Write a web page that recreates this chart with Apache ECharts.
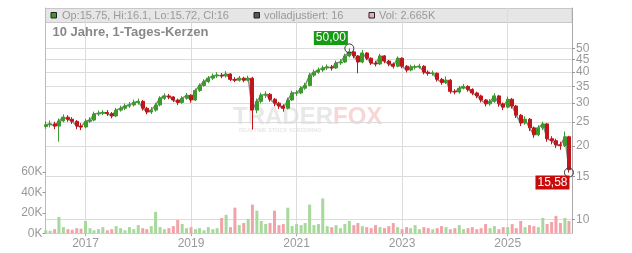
<!DOCTYPE html>
<html><head><meta charset="utf-8">
<script src="https://cdn.jsdelivr.net/npm/echarts@6/dist/echarts.min.js"></script>
<style>html,body{margin:0;padding:0;background:#fff}#c{width:632px;height:253px}</style>
</head><body><div id="c"></div>
<script>
// Monthly candles, first month = April 2016
const firstYear = 2016, firstMonth = 3;
const opens = [24.0,24.4,24.6,24.1,25.3,26.2,25.7,25.2,24.1,23.9,25.2,25.5,27.0,27.2,27.4,27.1,26.5,28.0,28.5,29.1,
29.4,30.1,30.4,28.5,27.5,28.0,29.4,31.3,32.0,31.7,30.8,30.1,31.3,32.2,30.8,33.7,35.3,36.6,37.8,38.6,
38.9,38.6,39.3,37.4,37.1,37.8,37.1,37.8,28.0,30.4,32.2,32.5,31.0,29.9,29.1,28.5,30.8,32.9,32.9,34.4,
35.3,38.9,40.0,40.8,41.6,42.0,41.6,43.6,44.0,46.6,48.4,46.6,44.0,47.9,45.6,43.6,43.2,46.6,44.4,43.2,
42.3,45.6,42.3,40.8,42.0,42.0,42.3,40.0,39.6,39.6,37.4,36.3,37.1,33.4,33.2,34.4,35.0,34.0,32.9,32.0,
30.8,29.7,30.4,32.0,29.7,28.8,31.0,29.1,26.7,24.8,25.7,23.7,22.2,23.7,24.6,21.4,21.0,20.2,20.1,21.8];
const closes = [24.4,24.6,24.1,25.3,26.2,25.7,25.2,24.1,23.9,25.2,25.5,27.0,27.2,27.4,27.1,26.5,28.0,28.5,29.1,29.4,
30.1,30.4,28.5,27.5,28.0,29.4,31.3,32.0,31.7,30.8,30.1,31.3,32.2,30.8,33.7,35.3,36.6,37.8,38.6,38.9,
38.6,39.3,37.4,37.1,37.8,37.1,37.8,28.0,30.4,32.2,32.5,31.0,29.9,29.1,28.5,30.8,32.9,32.9,34.4,35.3,
38.9,40.0,40.8,41.6,42.0,41.6,43.6,44.0,46.6,48.4,46.6,44.0,47.9,45.6,43.6,43.2,46.6,44.4,43.2,42.3,
45.6,42.3,40.8,42.0,42.0,42.3,40.0,39.6,39.6,37.4,36.3,37.1,33.4,33.2,34.4,35.0,34.0,32.9,32.0,30.8,
29.7,30.4,32.0,29.7,28.8,31.0,29.1,26.7,24.8,25.7,23.7,22.2,23.7,24.6,21.4,21.0,20.2,20.1,21.8,16.0];
const highs = [25.2,25.4,25.1,25.9,26.9,26.7,26.2,25.5,24.8,25.8,26.2,27.6,27.9,28.0,28.0,27.5,28.6,29.2,29.8,30.2,
30.9,31.2,30.8,28.9,28.8,30.0,31.9,32.8,32.6,31.9,31.2,31.9,32.9,32.5,34.3,36.0,37.4,38.6,39.5,40.0,
39.7,40.4,39.6,38.2,38.6,38.3,38.7,38.3,31.2,33.0,33.4,32.9,31.4,30.3,29.6,31.5,33.6,33.8,35.1,36.2,
39.8,41.0,41.8,42.6,43.0,42.8,44.6,45.2,47.6,50.0,48.9,47.0,49.3,48.3,46.0,44.5,47.5,47.0,44.9,43.8,
46.4,46.0,42.8,42.9,42.9,43.3,42.7,40.7,40.6,39.9,37.9,38.4,37.5,34.1,35.2,35.8,35.4,34.4,33.3,32.4,
31.1,31.1,32.8,32.3,30.1,31.8,31.4,29.4,27.0,26.4,26.0,24.0,24.3,25.1,24.8,21.9,21.4,20.8,22.9,22.0];
const lows = [23.5,23.8,23.4,20.8,25.0,25.1,24.6,23.4,23.2,23.6,24.8,25.2,26.5,26.7,26.5,25.9,26.2,27.6,28.0,28.6,
29.0,29.5,27.9,26.9,27.0,27.6,29.0,30.8,31.0,30.2,29.4,29.7,30.9,30.0,30.5,33.2,34.9,36.1,37.2,37.9,
37.8,38.0,36.8,36.4,36.6,36.4,36.7,23.3,27.2,29.8,31.4,30.3,29.0,28.3,27.6,28.2,30.5,32.0,32.5,33.9,
35.0,38.2,39.4,40.1,40.8,40.6,41.2,42.8,43.6,46.0,45.6,39.6,43.5,44.8,42.8,42.2,42.8,43.5,42.3,41.4,
41.9,41.5,39.9,40.3,41.0,41.3,39.2,38.7,38.7,36.6,35.5,35.8,32.7,32.5,32.7,34.0,33.3,32.2,31.3,30.1,
29.0,29.2,30.0,28.9,28.0,28.5,28.4,26.0,24.1,24.4,23.0,21.6,21.9,23.2,20.8,20.3,19.6,19.3,19.8,15.58];
const volumes = [3000,2500,4000,16000,6000,4000,3500,5000,4500,12000,5000,3000,4000,6000,3000,4000,7000,5000,3000,6000,
4000,8000,5000,4000,7000,21000,6000,4000,5000,7000,13000,9000,5000,6000,4000,5000,3000,6000,4000,5000,
15000,18000,6000,25000,8000,10000,14000,28000,22000,12000,9000,10000,22000,8000,9000,25000,7000,9000,8000,10000,
28000,8000,9000,34000,7000,6000,8000,5000,9000,12000,8000,10000,7000,6000,5000,8000,6000,5000,7000,10000,
6000,4000,6000,5000,8000,4000,6000,5000,4000,5000,7000,6000,4000,5000,8000,4000,5000,6000,4000,5000,
9000,5000,7000,4000,6000,6000,9000,5000,12000,6000,8000,7000,6000,15000,9000,11000,17000,10000,15000,12000];
const priceTicks = [10,15,20,25,30,35,40,45,50];
const volumeTicks = [0,20000,40000,60000];
const yearTicks = [2017,2019,2021,2023,2025];

const FONT = 'Liberation Sans, Arial, sans-serif';
const UP = '#3c9a2c', DOWN = '#c0161b';
const dates = closes.map((_, i) => Date.UTC(firstYear, firstMonth + i, 1));
const candleData = dates.map((d, i) => [d, opens[i], closes[i], lows[i], highs[i]]);
const volData = dates.map((d, i) => [d, volumes[i]]);
const adjData = dates.map((d, i) => [d, closes[i]]);
const yearTs = yearTicks.map(y => Date.UTC(y, 0, 1));
const fmt = v => Number(v).toFixed(2).replace('.', ',');
// price ticks are split over two overlaid identical log axes so neighbouring labels never hide each other
const ticksA = priceTicks.filter((_, i) => i % 2 === 0);
const ticksB = priceTicks.filter((_, i) => i % 2 === 1);
const priceAxis = (ticks, showLine) => ({
  type: 'log', logBase: 10, position: 'right', min: 8.80, max: 73.1,
  axisLine: {show: showLine, lineStyle: {color: '#aaa'}},
  axisTick: {show: true, customValues: ticks, length: 3, lineStyle: {color: '#999'}},
  axisLabel: {customValues: ticks, color: '#999', fontSize: 12, lineHeight: 10, margin: 4, fontFamily: FONT},
  splitLine: {show: true, lineStyle: {color: '#dcdcdc'}}
});

const chart = echarts.init(document.getElementById('c'), null, {renderer: 'canvas'});
chart.setOption({
  animation: false,
  textStyle: {fontFamily: FONT},
  grid: {left: 45.5, right: 60, top: 8, bottom: 19.7, containLabel: false},
  xAxis: {
    type: 'value', min: Date.UTC(2016, 2, 30), max: Date.UTC(2026, 2, 22),
    axisLine: {show: true, lineStyle: {color: '#d0d0d0'}},
    axisTick: {show: true, customValues: yearTs, length: 3, lineStyle: {color: '#aaa'}},
    axisLabel: {customValues: yearTs, formatter: v => String(new Date(v).getUTCFullYear()), color: '#999', fontSize: 12, margin: 4, fontFamily: FONT},
    splitLine: {show: true, lineStyle: {color: '#dcdcdc'}}
  },
  yAxis: [priceAxis(ticksA, true), {
    type: 'value', position: 'left', min: 0, max: 219800,
    axisLine: {show: true, lineStyle: {color: '#bbb'}},
    axisTick: {show: true, customValues: volumeTicks, length: 3, lineStyle: {color: '#999'}},
    axisLabel: {customValues: volumeTicks, formatter: v => (v / 1000) + 'K', color: '#999', fontSize: 12, margin: 3, fontFamily: FONT},
    splitLine: {show: false}
  }, priceAxis(ticksB, false)],
  graphic: {elements: [
    {type: 'rect', z: -10, shape: {x: 45.5, y: 8.5, width: 526.5, height: 14}, style: {fill: '#e6e6e6', stroke: '#c8c8c8', lineWidth: 1}},
    {type: 'rect', z: 10, shape: {x: 51, y: 12.5, width: 5.5, height: 5.5}, style: {fill: UP, stroke: '#222', lineWidth: 1}},
    {type: 'text', z: 10, x: 62, y: 15.5, style: {text: 'Op:15.75, Hi:16.1, Lo:15.72, Cl:16', font: '11px ' + FONT, fill: '#999', verticalAlign: 'middle'}},
    {type: 'rect', z: 10, shape: {x: 254, y: 12.5, width: 5.5, height: 5.5}, style: {fill: '#555', stroke: '#222', lineWidth: 1}},
    {type: 'text', z: 10, x: 264, y: 15.5, style: {text: 'volladjustiert: 16', font: '11px ' + FONT, fill: '#999', verticalAlign: 'middle'}},
    {type: 'rect', z: 10, shape: {x: 369, y: 12.5, width: 5.5, height: 5.5}, style: {fill: '#f0a8ae', stroke: '#222', lineWidth: 1}},
    {type: 'text', z: 10, x: 379, y: 15.5, style: {text: 'Vol: 2.665K', font: '11px ' + FONT, fill: '#999', verticalAlign: 'middle'}},
    {type: 'text', z: 10, x: 52.5, y: 32.5, style: {text: '10 Jahre, 1-Tages-Kerzen', font: 'bold 13px ' + FONT, fill: '#888', verticalAlign: 'middle'}},
    {type: 'text', z: -5, x: 233, y: 117, style: {text: 'TRADER', font: 'bold 24px ' + FONT, fill: '#e8e8e8', verticalAlign: 'middle'}},
    {type: 'text', z: -5, x: 333, y: 117, style: {text: 'FOX', font: 'bold 24px ' + FONT, fill: '#f8d6d6', verticalAlign: 'middle'}},
    {type: 'text', z: -5, x: 239, y: 130.5, style: {text: 'REALTIME STOCK SCREENING', font: 'bold 5.5px ' + FONT, fill: '#e8e8e8', verticalAlign: 'middle'}}
  ]},
  series: [{
    type: 'bar', name: 'Vol', xAxisIndex: 0, yAxisIndex: 1, data: volData, barWidth: 3, z: 1,
    itemStyle: {color: p => closes[p.dataIndex] >= opens[p.dataIndex] ? '#a6d99b' : '#f2a3a9'}
  }, {
    type: 'line', name: 'volladjustiert', yAxisIndex: 0, data: adjData, symbol: 'none', z: 2,
    lineStyle: {color: '#888', width: 1.5}
  }, {
    type: 'candlestick', name: 'Kurs', yAxisIndex: 0, data: candleData, barWidth: 3.5, z: 3,
    itemStyle: {color: UP, color0: DOWN, borderColor: UP, borderColor0: DOWN, borderWidth: 1},
    markPoint: {
      symbol: 'circle', symbolSize: 9,
      itemStyle: {color: 'rgba(0,0,0,0)', borderColor: '#333', borderWidth: 1},
      data: [
        {type: 'max', valueDim: 'highest', label: {show: true, formatter: p => fmt(p.value), position: [-30.5, -12.5], color: '#fff', fontSize: 12, lineHeight: 12, padding: [1, 2, 1, 2], backgroundColor: '#169b16', fontFamily: FONT}},
        {type: 'min', valueDim: 'lowest', label: {show: true, formatter: p => fmt(p.value), position: [-28.5, 8], color: '#fff', fontSize: 12, lineHeight: 12, padding: [1, 2, 1, 2], backgroundColor: '#c80a0a', fontFamily: FONT}}
      ]
    }
  }]
});
</script></body></html>
